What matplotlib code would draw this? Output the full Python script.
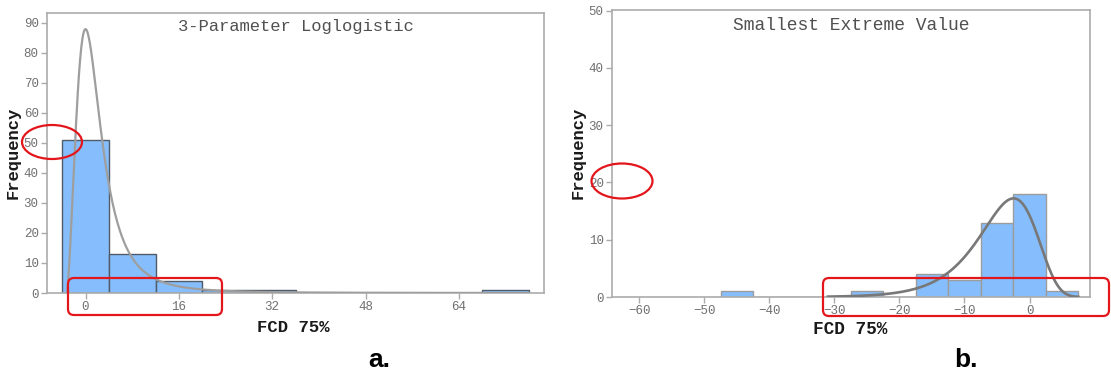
import numpy as np
import matplotlib
matplotlib.use("Agg")
import matplotlib.pyplot as plt
from matplotlib.patches import Ellipse, FancyBboxPatch

# ---- data -------------------------------------------------------------
# Panel a: histogram of FCD 75% (bin width 8) with 3-parameter loglogistic fit
a_bin_left = [-4, 4, 12, 20, 28, 36, 44, 52, 60, 68]
a_counts = [51, 13, 4, 1, 1, 0, 0, 0, 0, 1]
a_bin_width = 8
a_xticks = [0, 16, 32, 48, 64]
a_yticks = [0, 10, 20, 30, 40, 50, 60, 70, 80, 90]
# loglogistic fit parameters: shape, scale, threshold
a_shape, a_scale, a_threshold = 2.4, 4.64, -3.2

# Panel b: histogram of FCD 75% (bin width 5) with smallest extreme value fit
b_bin_center = [-45, -40, -35, -30, -25, -20, -15, -10, -5, 0, 5]
b_counts = [1, 0, 0, 0, 1, 0, 4, 3, 13, 18, 1]
b_bin_width = 5
b_xticks = [-60, -50, -40, -30, -20, -10, 0]
b_yticks = [0, 10, 20, 30, 40, 50]
# smallest extreme value fit parameters: location, scale
b_loc, b_scale = -2.45, 4.38
b_curve_range = (-31, 7.5)

# ---- styling ------------------------------------------------------------
mono = "Liberation Mono"
bar_fill = "#86BEFD"
spine_col = "#ABABAB"
tick_col = "#707070"
red = "#E3161B"

W, H = 1111, 375
fig = plt.figure(figsize=(W / 100, H / 100), dpi=100)


def px_axes(x0, x1, y_top, y_bot):
    return fig.add_axes([x0 / W, 1 - y_bot / H, (x1 - x0) / W, (y_bot - y_top) / H])


def style(ax):
    for s in ax.spines.values():
        s.set_color(spine_col)
        s.set_linewidth(1.2)
    ax.tick_params(axis="both", direction="out", length=4, width=1,
                   color=spine_col, labelcolor=tick_col, labelsize=9, pad=2)
    for lab in ax.get_xticklabels() + ax.get_yticklabels():
        lab.set_fontfamily(mono)
    ax.set_facecolor("white")


def loglogistic_pdf(x, shape, scale, thr):
    t = np.clip(x - thr, 1e-12, None)
    u = t / scale
    return (shape / scale) * u ** (shape - 1) / (1 + u ** shape) ** 2


def sev_pdf(x, loc, scale):
    z = (x - loc) / scale
    return np.exp(z - np.exp(z)) / scale


# ---- panel a ------------------------------------------------------------
ax1 = px_axes(47, 544, 13, 293)
ax1.bar(a_bin_left, a_counts, width=a_bin_width, align="edge",
        color=bar_fill, edgecolor="#4F5B68", linewidth=1.0, zorder=2)
n_a = sum(a_counts)
xa = np.linspace(a_threshold, a_bin_left[-1] + a_bin_width, 800)
ax1.plot(xa, n_a * a_bin_width * loglogistic_pdf(xa, a_shape, a_scale, a_threshold),
         color="#9E9E9E", lw=1.6, zorder=3)
ax1.set_xlim(-6.6, 78.6)
ax1.set_ylim(0, 93.2)
ax1.set_xticks(a_xticks)
ax1.set_yticks(a_yticks)
style(ax1)
ax1.text(0.5, 0.95, "3-Parameter Loglogistic", transform=ax1.transAxes,
         ha="center", va="center", fontfamily=mono, fontsize=12.3, color="#505050")

# ---- panel b ------------------------------------------------------------
ax2 = px_axes(612, 1090, 10, 297)
ax2.bar(b_bin_center, b_counts, width=b_bin_width, align="center",
        color=bar_fill, edgecolor="#9C9C9C", linewidth=1.0, zorder=2)
n_b = sum(b_counts)
xb = np.linspace(b_curve_range[0], b_curve_range[1], 600)
ax2.plot(xb, n_b * b_bin_width * sev_pdf(xb, b_loc, b_scale),
         color="#787878", lw=1.9, zorder=3)
ax2.set_xlim(-64.2, 9.3)
ax2.set_ylim(0, 50.1)
ax2.set_xticks(b_xticks)
ax2.set_yticks(b_yticks)
style(ax2)
ax2.text(0.5, 0.945, "Smallest Extreme Value", transform=ax2.transAxes,
         ha="center", va="center", fontfamily=mono, fontsize=13, color="#505050")

# ---- axis titles and panel letters ---------------------------------------
lab_kw = dict(fontfamily=mono, fontweight="bold", color="#1A1A1A")
fig.text(13 / W, 1 - 153 / H, "Frequency", rotation=90, ha="center", va="center",
         fontsize=12.3, **lab_kw)
fig.text(578 / W, 1 - 153 / H, "Frequency", rotation=90, ha="center", va="center",
         fontsize=12.3, **lab_kw)
fig.text(293 / W, 1 - 327 / H, "FCD 75%", ha="center", va="center", fontsize=12.4, **lab_kw)
fig.text(850 / W, 1 - 330 / H, "FCD 75%", ha="center", va="center", fontsize=12.8, **lab_kw)
fig.text(379 / W, 1 - 360 / H, "a.", ha="center", va="center",
         fontfamily="Liberation Sans", fontweight="bold", fontsize=19, color="black")
fig.text(966 / W, 1 - 360 / H, "b.", ha="center", va="center",
         fontfamily="Liberation Sans", fontweight="bold", fontsize=19, color="black")

# ---- red highlight marks ------------------------------------------------
ov = fig.add_axes([0, 0, 1, 1], facecolor="none")
ov.set_xlim(0, W)
ov.set_ylim(H, 0)
ov.axis("off")
ov.add_patch(Ellipse((52, 142), 60, 34, fill=False, edgecolor=red, lw=1.6))
ov.add_patch(Ellipse((622, 181), 61, 35, fill=False, edgecolor=red, lw=1.6))
ov.add_patch(FancyBboxPatch((68, 278), 154, 37, boxstyle="round,pad=0,rounding_size=6",
                            fill=False, edgecolor=red, lw=1.6))
ov.add_patch(FancyBboxPatch((823, 278), 286, 38, boxstyle="round,pad=0,rounding_size=6",
                            fill=False, edgecolor=red, lw=1.6))

fig.savefig("out.png", dpi=100, facecolor="white")
